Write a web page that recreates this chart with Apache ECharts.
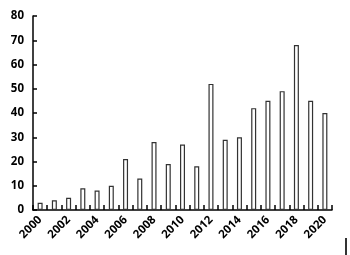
<!DOCTYPE html>
<html><head><meta charset="utf-8">
<script src="https://cdn.jsdelivr.net/npm/echarts@6/dist/echarts.min.js"></script>
<style>html,body{margin:0;padding:0;background:#fff}#c{width:350px;height:255px}</style>
</head><body><div id="c"></div>
<script>
const years = ['2000','2001','2002','2003','2004','2005','2006','2007','2008','2009','2010','2011','2012','2013','2014','2015','2016','2017','2018','2019','2020'];
const counts = [3,4,5,9,8,10,21,13,28,19,27,18,52,29,30,42,45,49,68,45,40];
const yTicks = [0,10,20,30,40,50,60,70,80];

const chart = echarts.init(document.getElementById('c'));
chart.setOption({
  animation:false,
  grid:{left:33,top:16,right:18,bottom:45,containLabel:false},
  xAxis:{type:'category',data:years,
    axisLine:{lineStyle:{color:'#000',width:1.5}},
    axisTick:{show:true,inside:true,length:5,interval:0,lineStyle:{color:'#000',width:1.5},alignWithLabel:false},
    axisLabel:{interval:1,rotate:45,color:'#000',fontWeight:'bold',fontSize:11.5,fontFamily:'Open Sans, DejaVu Sans, sans-serif',margin:8}},
  yAxis:{type:'value',min:yTicks[0],max:yTicks[yTicks.length-1],interval:10,
    axisLine:{show:true,lineStyle:{color:'#000',width:1.5}},
    axisTick:{show:true,inside:true,length:4,lineStyle:{color:'#000',width:1.5}},
    splitLine:{show:false},
    axisLabel:{color:'#000',fontWeight:'bold',fontSize:11.5,fontFamily:'Open Sans, DejaVu Sans, sans-serif',margin:9}},
  series:[{type:'bar',data:counts,barWidth:5,
    itemStyle:{color:'#fff',borderColor:'#333',borderWidth:1.2}}],
  graphic:[{type:'rect',shape:{x:345,y:238,width:2,height:17},style:{fill:'#333'}}]
});
</script></body></html>
